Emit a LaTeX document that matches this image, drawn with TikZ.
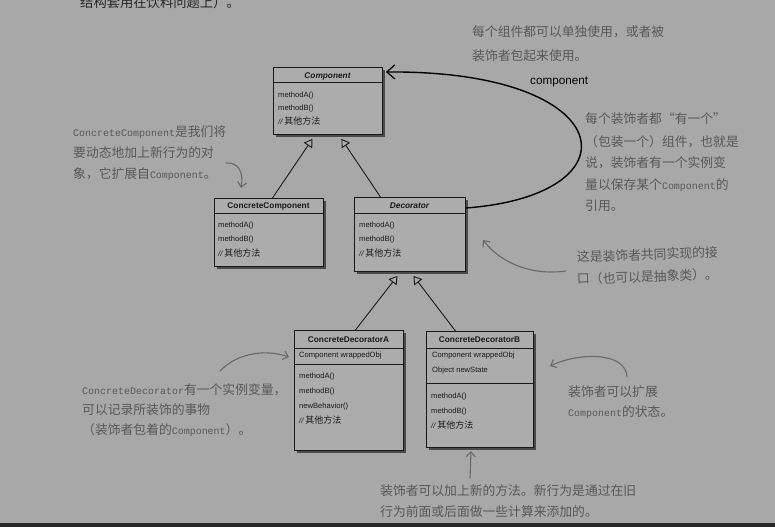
\documentclass[tikz,border=0pt]{standalone}
\usepackage{fontspec}
\setmainfont{Liberation Sans}
\newfontfamily\cjk{Noto Sans CJK SC}
\newfontfamily\annlat[Scale=0.78]{Liberation Mono}
\usetikzlibrary{arrows.meta,shadows}
\definecolor{bg}{RGB}{168,168,168}
\definecolor{boxfill}{RGB}{172,172,172}
\definecolor{anncol}{RGB}{88,88,88}
\definecolor{arrcol}{RGB}{105,105,105}
\newcommand\annf{\cjk\fontsize{12.8pt}{15pt}\selectfont}
\newcommand\itemcjk[1]{{\cjk\fontsize{9pt}{9pt}\selectfont #1}}
\newcommand\othm{{\itshape //}\hspace{2pt}\itemcjk{其他方法}}
\begin{document}
\begin{tikzpicture}[x=1pt,y=-1pt,
  umlbox/.style={draw=black!90, line width=0.9pt, fill=boxfill, inner sep=0pt, anchor=north west,
    drop shadow={shadow xshift=2.5pt, shadow yshift=-2.5pt, fill=black, opacity=0.55}},
  ctitle/.style={anchor=base, inner sep=0pt, font=\fontsize{8.3pt}{9pt}\selectfont\bfseries, text=black!90},
  citem/.style={anchor=base west, inner sep=0pt, font=\fontsize{7.6pt}{9pt}\selectfont, text=black!90},
  inherit/.style={draw=black!90, line width=0.9pt, -{Triangle[length=8pt,width=10pt,fill=boxfill]}},
  ann/.style={anchor=base west, inner sep=0pt, font=\annf, text=anncol},
  note/.style={draw=arrcol, line width=1.1pt, line cap=round, -{Straight Barb[length=5pt,width=9pt]}},
  sepline/.style={draw=black!90, line width=0.8pt}
]
\fill[bg] (0,0) rectangle (775,527);
\useasboundingbox (0,0) rectangle (775,527);
\fill[black!85] (0,523) rectangle (775,527);

% top cut text
\node[anchor=base west, inner sep=0pt, font=\cjk\fontsize{13.3pt}{15pt}\selectfont, text=black!85] (toptext) at (80,8) {结构套用在饮料问题上）。};

% Component
\node[umlbox, minimum width=109pt, minimum height=67pt] (comp) at (273,67) {};
\draw[sepline] ([yshift=-15pt]comp.north west) -- ([yshift=-15pt]comp.north east);
\node[ctitle] (compT) at (327.5,78) {\itshape Component};
\node[citem] (compI1) at (278,97) {methodA()};
\node[citem] (compI2) at (278,110) {methodB()};
\node[citem] (compI3) at (278,124) {\othm};

% ConcreteComponent
\node[umlbox, minimum width=109pt, minimum height=68pt] (cc) at (214,198) {};
\draw[sepline] ([yshift=-15pt]cc.north west) -- ([yshift=-15pt]cc.north east);
\node[ctitle] (ccT) at (268.5,208) {ConcreteComponent};
\node[citem] (ccI1) at (218,227) {methodA()};
\node[citem] (ccI2) at (218,241) {methodB()};
\node[citem] (ccI3) at (218,256) {\othm};

% Decorator
\node[umlbox, minimum width=111pt, minimum height=74pt] (dec) at (354,197) {};
\draw[sepline] ([yshift=-16pt]dec.north west) -- ([yshift=-16pt]dec.north east);
\node[ctitle] (decT) at (409.5,208) {\itshape Decorator};
\node[citem] (decI1) at (359,227) {methodA()};
\node[citem] (decI2) at (359,241) {methodB()};
\node[citem] (decI3) at (359,256) {\othm};

% ConcreteDecoratorA
\node[umlbox, minimum width=109pt, minimum height=120pt] (cda) at (294,330) {};
\draw[sepline] ([yshift=-18pt]cda.north west) -- ([yshift=-18pt]cda.north east);
\draw[sepline] ([yshift=-34pt]cda.north west) -- ([yshift=-34pt]cda.north east);
\node[ctitle] (cdaT) at (348.5,342) {ConcreteDecoratorA};
\node[citem] (cdaF1) at (299,357) {Component wrappedObj};
\node[citem] (cdaI1) at (299,378) {methodA()};
\node[citem] (cdaI2) at (299,393) {methodB()};
\node[citem] (cdaI3) at (299,408) {newBehavior()};
\node[citem] (cdaI4) at (299,423) {\othm};

% ConcreteDecoratorB
\node[umlbox, minimum width=107pt, minimum height=116pt] (cdb) at (426,331) {};
\draw[sepline] ([yshift=-17pt]cdb.north west) -- ([yshift=-17pt]cdb.north east);
\draw[sepline] ([yshift=-52pt]cdb.north west) -- ([yshift=-52pt]cdb.north east);
\node[ctitle] (cdbT) at (479.5,342) {ConcreteDecoratorB};
\node[citem] (cdbF1) at (432,357) {Component wrappedObj};
\node[citem] (cdbF2) at (432,372) {Object newState};
\node[citem] (cdbI1) at (431,398) {methodA()};
\node[citem] (cdbI2) at (431,413) {methodB()};
\node[citem] (cdbI3) at (431,428) {\othm};

% inheritance
\draw[inherit] ([xshift=3.5pt]cc.north) -- ([xshift=-15.5pt,yshift=-4pt]comp.south);
\draw[inherit] ([xshift=-29.5pt]dec.north) -- ([xshift=13.5pt,yshift=-4pt]comp.south);
\draw[inherit] ([xshift=6.5pt]cda.north) -- ([xshift=-12.5pt,yshift=-4pt]dec.south);
\draw[inherit] ([xshift=-24.5pt]cdb.north) -- ([xshift=3.5pt,yshift=-4pt]dec.south);

% association
\draw[line width=1.4pt, -{Straight Barb[length=8pt,width=14pt,line width=1.2pt]}]
  ([yshift=-11pt]dec.north east) .. controls (640,195) and (620,70) .. ([xshift=3pt,yshift=-5pt]comp.north east);
\node[anchor=base west, inner sep=0pt, font=\fontsize{11.7pt}{13pt}\selectfont, text=black] (assoc) at (530,84) {component};

% annotations
\node[ann] (a2l1) at (472,37) {每个组件都可以单独使用，或者被};
\node[ann] (a2l2) at (472,60) {装饰者包起来使用。};

\node[ann] (a4l1) at (585,123) {每个装饰者都“有一个”};
\node[ann] (a4l2) at (585,146) {（包装一个）组件，也就是};
\node[ann] (a4l3) at (585,167) {说，装饰者有一个实例变};
\node[ann] (a4l4) at (585,189) {量以保存某个{\annlat Component}的};
\node[ann] (a4l5) at (585,210) {引用。};

\node[ann] (a5l1) at (73,136) {{\annlat ConcreteComponent}是我们将};
\node[ann] (a5l2) at (73,157) {要动态地加上新行为的对};
\node[ann] (a5l3) at (73,178) {象，它扩展自{\annlat Component}。};

\node[ann, rotate=2] (a6l1) at (577,262) {这是装饰者共同实现的接};
\node[ann, rotate=2] (a6l2) at (577,284) {口（也可以是抽象类）。};

\node[ann] (a7l1) at (82,394) {{\annlat ConcreteDecorator}有一个实例变量，};
\node[ann] (a7l2) at (82,414) {可以记录所装饰的事物};
\node[ann] (a7l3) at (82,434) {（装饰者包着的{\annlat Component}）。};

\node[ann] (a8l1) at (568,396) {装饰者可以扩展};
\node[ann] (a8l2) at (568,416) {{\annlat Component}的状态。};

\node[ann] (a9l1) at (380,495) {装饰者可以加上新的方法。新行为是通过在旧};
\node[ann] (a9l2) at (380,516) {行为前面或后面做一些计算来添加的。};

% annotation arrows
\coordinate (a5s) at (226,163); \coordinate (a5e) at (241,188);
\draw[note] (a5s) .. controls (238,162) and (244,172) .. (a5e);
\coordinate (a6s) at (566,271); \coordinate (a6e) at (483,240);
\draw[note] (a6s) .. controls (530,276) and (500,262) .. (a6e);
\coordinate (a7s) at (220,371); \coordinate (a7e) at (289,357);
\draw[note] (a7s) .. controls (235,355) and (262,348) .. (a7e);
\coordinate (a8s) at (627,377); \coordinate (a8e) at (550,366);
\draw[note] (a8s) .. controls (626,352) and (580,352) .. (a8e);
\coordinate (a9s) at (470,478); \coordinate (a9e) at (471,451);
\draw[note] (a9s) -- (a9e);
\end{tikzpicture}
\end{document}
